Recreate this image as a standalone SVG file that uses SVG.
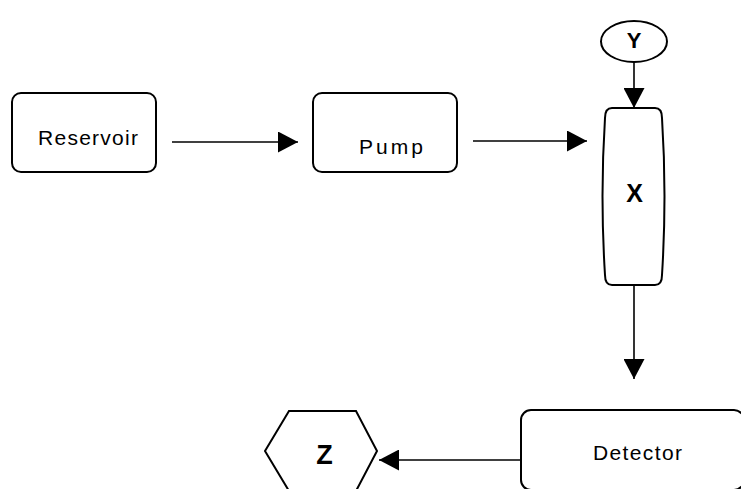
<svg xmlns="http://www.w3.org/2000/svg" width="741" height="489" viewBox="0 0 741 489">
  <style>
    .box { fill: #ffffff; stroke: #000000; stroke-width: 2; }
    .edge { fill: none; stroke: #000000; stroke-width: 1.6; }
    .label { font-family: "Liberation Sans", Arial, sans-serif; font-size: 21px; fill: #000000; }
    .big { font-family: "Liberation Sans", Arial, sans-serif; font-weight: bold; fill: #000000; text-anchor: middle; }
  </style>
  <defs>
    <marker id="arrow" viewBox="0 0 20 21" refX="20" refY="10.5" markerWidth="20" markerHeight="21" markerUnits="userSpaceOnUse" orient="auto">
      <path d="M0,0 L20,10.5 L0,21 Z" fill="#000000"/>
    </marker>
  </defs>
  <rect width="741" height="489" fill="#ffffff"/>

  <g id="reservoir">
    <rect class="box" x="12" y="93" width="144" height="79" rx="9" ry="9"/>
    <text class="label" x="38" y="145" textLength="100" lengthAdjust="spacing">Reservoir</text>
  </g>

  <g id="pump">
    <rect class="box" x="313" y="93" width="144" height="79" rx="9" ry="9"/>
    <text class="label" x="359" y="154" font-family="DejaVu Sans, sans-serif" font-size="20" textLength="64" lengthAdjust="spacing">Pump</text>
  </g>

  <g id="y">
    <ellipse class="box" cx="634" cy="41.5" rx="33" ry="20.5"/>
    <text class="big" x="634" y="48" font-size="22">Y</text>
  </g>

  <g id="x">
    <path class="box" d="M612,108 H655 Q662,108 662,118 Q667,196 662,275 Q662,285 655,285 H612 Q605,285 605,275 Q600,196 605,118 Q605,108 612,108 Z"/>
    <text class="big" x="634.5" y="202" font-size="25">X</text>
  </g>

  <g id="detector">
    <rect class="box" x="521" y="410" width="223" height="80" rx="10" ry="10"/>
    <text class="label" x="593" y="460" textLength="89" lengthAdjust="spacing">Detector</text>
  </g>

  <g id="z">
    <path class="box" d="M265,451 L289,411 L356,411 L377,451 L356,491 L289,491 Z"/>
    <text class="big" x="324.5" y="464" font-size="27">Z</text>
  </g>

  <g id="connectors">
    <line class="edge" x1="172" y1="142" x2="298" y2="142" marker-end="url(#arrow)"/>
    <line class="edge" x1="473" y1="141" x2="587" y2="141" marker-end="url(#arrow)"/>
    <line class="edge" x1="634" y1="62" x2="634" y2="108" marker-end="url(#arrow)"/>
    <line class="edge" x1="634" y1="285" x2="634" y2="379" marker-end="url(#arrow)"/>
    <line class="edge" x1="521" y1="460" x2="379" y2="460" marker-end="url(#arrow)"/>
  </g>
</svg>
